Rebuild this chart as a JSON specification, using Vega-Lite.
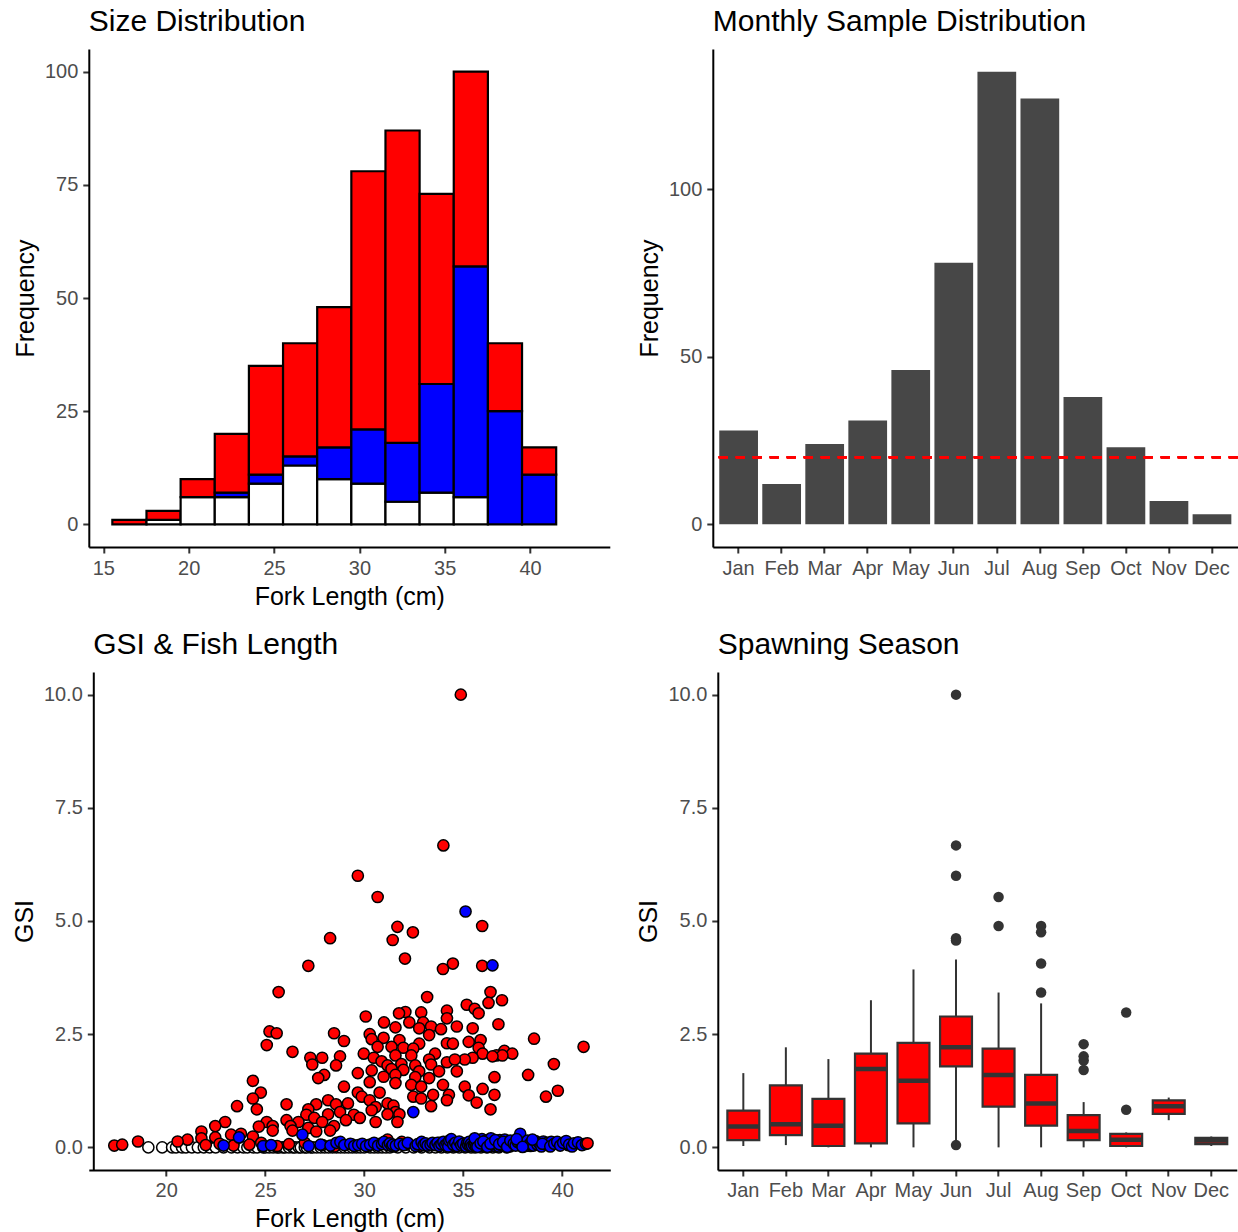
{
  "$schema": "https://vega.github.io/schema/vega-lite/v6.json",
  "background": "white",
  "padding": {"left": 11.8, "top": 7, "right": 0, "bottom": 0},
  "config": {
    "font": "Liberation Sans",
    "view": {"stroke": null},
    "axis": {
      "domainColor": "black", "domainWidth": 2, "tickColor": "#333333", "tickWidth": 2, "tickSize": 6,
      "labelColor": "#4d4d4d", "labelFontSize": 20, "labelPadding": 5, "labelFlush": false, "labelOverlap": false,
      "titleFontSize": 25, "titleFontWeight": "normal", "titleColor": "black", "titlePadding": 6, "grid": false
    },
    "title": {"fontSize": 30, "fontWeight": "normal", "anchor": "start", "frame": "group", "color": "black", "baseline": "alphabetic", "offset": 12}
  },
  "datasets": {
    "hist": [
      {"bin_start": 15.5, "bin_end": 17.5, "sex": "F", "n": 1},
      {"bin_start": 17.5, "bin_end": 19.5, "sex": "U", "n": 1},
      {"bin_start": 17.5, "bin_end": 19.5, "sex": "F", "n": 2},
      {"bin_start": 19.5, "bin_end": 21.5, "sex": "U", "n": 6},
      {"bin_start": 19.5, "bin_end": 21.5, "sex": "F", "n": 4},
      {"bin_start": 21.5, "bin_end": 23.5, "sex": "U", "n": 6},
      {"bin_start": 21.5, "bin_end": 23.5, "sex": "M", "n": 1},
      {"bin_start": 21.5, "bin_end": 23.5, "sex": "F", "n": 13},
      {"bin_start": 23.5, "bin_end": 25.5, "sex": "U", "n": 9},
      {"bin_start": 23.5, "bin_end": 25.5, "sex": "M", "n": 2},
      {"bin_start": 23.5, "bin_end": 25.5, "sex": "F", "n": 24},
      {"bin_start": 25.5, "bin_end": 27.5, "sex": "U", "n": 13},
      {"bin_start": 25.5, "bin_end": 27.5, "sex": "M", "n": 2},
      {"bin_start": 25.5, "bin_end": 27.5, "sex": "F", "n": 25},
      {"bin_start": 27.5, "bin_end": 29.5, "sex": "U", "n": 10},
      {"bin_start": 27.5, "bin_end": 29.5, "sex": "M", "n": 7},
      {"bin_start": 27.5, "bin_end": 29.5, "sex": "F", "n": 31},
      {"bin_start": 29.5, "bin_end": 31.5, "sex": "U", "n": 9},
      {"bin_start": 29.5, "bin_end": 31.5, "sex": "M", "n": 12},
      {"bin_start": 29.5, "bin_end": 31.5, "sex": "F", "n": 57},
      {"bin_start": 31.5, "bin_end": 33.5, "sex": "U", "n": 5},
      {"bin_start": 31.5, "bin_end": 33.5, "sex": "M", "n": 13},
      {"bin_start": 31.5, "bin_end": 33.5, "sex": "F", "n": 69},
      {"bin_start": 33.5, "bin_end": 35.5, "sex": "U", "n": 7},
      {"bin_start": 33.5, "bin_end": 35.5, "sex": "M", "n": 24},
      {"bin_start": 33.5, "bin_end": 35.5, "sex": "F", "n": 42},
      {"bin_start": 35.5, "bin_end": 37.5, "sex": "U", "n": 6},
      {"bin_start": 35.5, "bin_end": 37.5, "sex": "M", "n": 51},
      {"bin_start": 35.5, "bin_end": 37.5, "sex": "F", "n": 43},
      {"bin_start": 37.5, "bin_end": 39.5, "sex": "M", "n": 25},
      {"bin_start": 37.5, "bin_end": 39.5, "sex": "F", "n": 15},
      {"bin_start": 39.5, "bin_end": 41.5, "sex": "M", "n": 11},
      {"bin_start": 39.5, "bin_end": 41.5, "sex": "F", "n": 6}
    ],
    "monthly": [
      {"month": "Jan", "n": 28}, {"month": "Feb", "n": 12}, {"month": "Mar", "n": 24}, {"month": "Apr", "n": 31},
      {"month": "May", "n": 46}, {"month": "Jun", "n": 78}, {"month": "Jul", "n": 135}, {"month": "Aug", "n": 127},
      {"month": "Sep", "n": 38}, {"month": "Oct", "n": 23}, {"month": "Nov", "n": 7}, {"month": "Dec", "n": 3}
    ],
    "box": [
      {"month": "Jan", "lo": 0.03, "q1": 0.16, "med": 0.46, "q3": 0.81, "hi": 1.64},
      {"month": "Feb", "lo": 0.05, "q1": 0.27, "med": 0.51, "q3": 1.37, "hi": 2.21},
      {"month": "Mar", "lo": 0.0, "q1": 0.03, "med": 0.48, "q3": 1.07, "hi": 1.95},
      {"month": "Apr", "lo": 0.0, "q1": 0.09, "med": 1.73, "q3": 2.07, "hi": 3.25},
      {"month": "May", "lo": 0.0, "q1": 0.53, "med": 1.47, "q3": 2.31, "hi": 3.93},
      {"month": "Jun", "lo": 0.15, "q1": 1.79, "med": 2.21, "q3": 2.89, "hi": 4.15},
      {"month": "Jul", "lo": 0.0, "q1": 0.9, "med": 1.6, "q3": 2.18, "hi": 3.42},
      {"month": "Aug", "lo": 0.0, "q1": 0.48, "med": 0.97, "q3": 1.6, "hi": 3.18},
      {"month": "Sep", "lo": 0.0, "q1": 0.16, "med": 0.36, "q3": 0.71, "hi": 1.0},
      {"month": "Oct", "lo": 0.0, "q1": 0.03, "med": 0.17, "q3": 0.3, "hi": 0.33},
      {"month": "Nov", "lo": 0.6, "q1": 0.74, "med": 0.91, "q3": 1.04, "hi": 1.1},
      {"month": "Dec", "lo": 0.03, "q1": 0.07, "med": 0.15, "q3": 0.21, "hi": 0.24}
    ],
    "outliers": [
      {"month": "Jun", "gsi": 10.0}, {"month": "Jun", "gsi": 6.67}, {"month": "Jun", "gsi": 6.0},
      {"month": "Jun", "gsi": 4.62}, {"month": "Jun", "gsi": 4.57}, {"month": "Jun", "gsi": 0.05},
      {"month": "Jul", "gsi": 5.53}, {"month": "Jul", "gsi": 4.89},
      {"month": "Aug", "gsi": 4.89}, {"month": "Aug", "gsi": 4.75}, {"month": "Aug", "gsi": 4.06}, {"month": "Aug", "gsi": 3.42},
      {"month": "Sep", "gsi": 2.28}, {"month": "Sep", "gsi": 2.01}, {"month": "Sep", "gsi": 1.92}, {"month": "Sep", "gsi": 1.71},
      {"month": "Oct", "gsi": 2.98}, {"month": "Oct", "gsi": 0.83}
    ],
    "fish": [
      {"fl":19.1,"gsi":0,"sex":"U"},{"fl":19.8,"gsi":0,"sex":"U"},{"fl":20.3,"gsi":0,"sex":"U"},{"fl":20.5,"gsi":0,"sex":"U"},{"fl":20.8,"gsi":0,"sex":"U"},{"fl":21.0,"gsi":0,"sex":"U"},{"fl":21.3,"gsi":0,"sex":"U"},{"fl":21.6,"gsi":0,"sex":"U"},{"fl":21.9,"gsi":0,"sex":"U"},{"fl":22.2,"gsi":0,"sex":"U"},{"fl":22.5,"gsi":0,"sex":"U"},{"fl":22.9,"gsi":0,"sex":"U"},{"fl":23.3,"gsi":0,"sex":"U"},{"fl":23.6,"gsi":0,"sex":"U"},{"fl":23.9,"gsi":0,"sex":"U"},{"fl":24.1,"gsi":0,"sex":"U"},{"fl":24.4,"gsi":0,"sex":"U"},{"fl":24.6,"gsi":0,"sex":"U"},{"fl":24.9,"gsi":0,"sex":"U"},{"fl":25.0,"gsi":0,"sex":"U"},{"fl":25.2,"gsi":0,"sex":"U"},{"fl":25.4,"gsi":0,"sex":"U"},{"fl":25.6,"gsi":0,"sex":"U"},{"fl":25.7,"gsi":0,"sex":"U"},{"fl":25.9,"gsi":0,"sex":"U"},{"fl":26.0,"gsi":0,"sex":"U"},{"fl":26.2,"gsi":0,"sex":"U"},{"fl":26.4,"gsi":0,"sex":"U"},{"fl":26.5,"gsi":0,"sex":"U"},{"fl":26.7,"gsi":0,"sex":"U"},{"fl":26.8,"gsi":0,"sex":"U"},{"fl":27.0,"gsi":0,"sex":"U"},{"fl":27.1,"gsi":0,"sex":"U"},{"fl":27.3,"gsi":0,"sex":"U"},{"fl":27.4,"gsi":0,"sex":"U"},{"fl":27.6,"gsi":0,"sex":"U"},{"fl":27.8,"gsi":0,"sex":"U"},{"fl":28.0,"gsi":0,"sex":"U"},{"fl":28.2,"gsi":0,"sex":"U"},{"fl":28.4,"gsi":0,"sex":"U"},{"fl":28.6,"gsi":0,"sex":"U"},{"fl":28.8,"gsi":0,"sex":"U"},{"fl":29.0,"gsi":0,"sex":"U"},{"fl":29.2,"gsi":0,"sex":"U"},{"fl":29.4,"gsi":0,"sex":"U"},{"fl":29.6,"gsi":0,"sex":"U"},{"fl":29.8,"gsi":0,"sex":"U"},{"fl":30.0,"gsi":0,"sex":"U"},{"fl":30.3,"gsi":0,"sex":"U"},{"fl":30.5,"gsi":0,"sex":"U"},{"fl":30.7,"gsi":0,"sex":"U"},{"fl":30.9,"gsi":0,"sex":"U"},{"fl":31.1,"gsi":0,"sex":"U"},{"fl":31.3,"gsi":0,"sex":"U"},{"fl":31.7,"gsi":0,"sex":"U"},{"fl":32.1,"gsi":0,"sex":"U"},{"fl":32.5,"gsi":0,"sex":"U"},{"fl":32.9,"gsi":0,"sex":"U"},{"fl":33.3,"gsi":0,"sex":"U"},{"fl":33.6,"gsi":0,"sex":"U"},{"fl":33.9,"gsi":0,"sex":"U"},{"fl":34.2,"gsi":0,"sex":"U"},{"fl":34.5,"gsi":0,"sex":"U"},{"fl":34.8,"gsi":0,"sex":"U"},{"fl":35.1,"gsi":0,"sex":"U"},{"fl":35.4,"gsi":0,"sex":"U"},{"fl":35.6,"gsi":0,"sex":"U"},{"fl":35.9,"gsi":0,"sex":"U"},{"fl":36.2,"gsi":0,"sex":"U"},{"fl":36.5,"gsi":0,"sex":"U"},{"fl":36.8,"gsi":0,"sex":"U"},{"fl":37.2,"gsi":0,"sex":"U"},
      {"fl":34.88,"gsi":10.0,"sex":"F"},{"fl":34.0,"gsi":6.67,"sex":"F"},{"fl":29.68,"gsi":6.0,"sex":"F"},{"fl":30.68,"gsi":5.53,"sex":"F"},{"fl":35.96,"gsi":4.89,"sex":"F"},{"fl":31.68,"gsi":4.87,"sex":"F"},{"fl":32.46,"gsi":4.75,"sex":"F"},{"fl":28.28,"gsi":4.62,"sex":"F"},{"fl":31.44,"gsi":4.58,"sex":"F"},{"fl":32.06,"gsi":4.17,"sex":"F"},{"fl":34.48,"gsi":4.06,"sex":"F"},{"fl":35.96,"gsi":4.01,"sex":"F"},{"fl":33.98,"gsi":3.94,"sex":"F"},{"fl":27.18,"gsi":4.01,"sex":"F"},{"fl":25.68,"gsi":3.43,"sex":"F"},{"fl":36.38,"gsi":3.43,"sex":"F"},{"fl":33.18,"gsi":3.32,"sex":"F"},{"fl":36.96,"gsi":3.25,"sex":"F"},{"fl":36.28,"gsi":3.19,"sex":"F"},{"fl":35.18,"gsi":3.15,"sex":"F"},{"fl":35.58,"gsi":3.06,"sex":"F"},{"fl":34.18,"gsi":3.02,"sex":"F"},{"fl":32.88,"gsi":2.98,"sex":"F"},{"fl":32.08,"gsi":2.99,"sex":"F"},{"fl":31.76,"gsi":2.96,"sex":"F"},{"fl":30.08,"gsi":2.89,"sex":"F"},{"fl":35.78,"gsi":2.96,"sex":"F"},{"fl":34.18,"gsi":2.85,"sex":"F"},{"fl":31.0,"gsi":2.76,"sex":"F"},{"fl":32.28,"gsi":2.76,"sex":"F"},{"fl":32.98,"gsi":2.76,"sex":"F"},{"fl":36.78,"gsi":2.72,"sex":"F"},{"fl":33.38,"gsi":2.67,"sex":"F"},{"fl":34.68,"gsi":2.67,"sex":"F"},{"fl":31.58,"gsi":2.65,"sex":"F"},{"fl":32.78,"gsi":2.63,"sex":"F"},{"fl":35.48,"gsi":2.63,"sex":"F"},{"fl":33.88,"gsi":2.61,"sex":"F"},{"fl":25.22,"gsi":2.56,"sex":"F"},{"fl":25.58,"gsi":2.52,"sex":"F"},{"fl":28.48,"gsi":2.52,"sex":"F"},{"fl":30.28,"gsi":2.5,"sex":"F"},{"fl":33.28,"gsi":2.48,"sex":"F"},{"fl":30.38,"gsi":2.39,"sex":"F"},{"fl":30.98,"gsi":2.42,"sex":"F"},{"fl":38.58,"gsi":2.4,"sex":"F"},{"fl":31.78,"gsi":2.37,"sex":"F"},{"fl":28.98,"gsi":2.35,"sex":"F"},{"fl":35.88,"gsi":2.37,"sex":"F"},{"fl":35.28,"gsi":2.33,"sex":"F"},{"fl":34.18,"gsi":2.3,"sex":"F"},{"fl":34.48,"gsi":2.29,"sex":"F"},{"fl":32.78,"gsi":2.29,"sex":"F"},{"fl":25.08,"gsi":2.26,"sex":"F"},{"fl":41.08,"gsi":2.22,"sex":"F"},{"fl":30.68,"gsi":2.22,"sex":"F"},{"fl":31.38,"gsi":2.22,"sex":"F"},{"fl":31.98,"gsi":2.2,"sex":"F"},{"fl":32.48,"gsi":2.18,"sex":"F"},{"fl":35.78,"gsi":2.2,"sex":"F"},{"fl":26.38,"gsi":2.11,"sex":"F"},{"fl":37.08,"gsi":2.13,"sex":"F"},{"fl":37.48,"gsi":2.07,"sex":"F"},{"fl":36.68,"gsi":2.03,"sex":"F"},{"fl":36.98,"gsi":2.03,"sex":"F"},{"fl":29.98,"gsi":2.07,"sex":"F"},{"fl":30.48,"gsi":1.98,"sex":"F"},{"fl":31.58,"gsi":2.03,"sex":"F"},{"fl":32.38,"gsi":2.03,"sex":"F"},{"fl":33.58,"gsi":2.07,"sex":"F"},{"fl":35.98,"gsi":2.07,"sex":"F"},{"fl":36.48,"gsi":2.01,"sex":"F"},{"fl":27.28,"gsi":1.98,"sex":"F"},{"fl":27.88,"gsi":1.98,"sex":"F"},{"fl":28.78,"gsi":2.01,"sex":"F"},{"fl":33.28,"gsi":1.94,"sex":"F"},{"fl":35.48,"gsi":1.98,"sex":"F"},{"fl":35.08,"gsi":1.94,"sex":"F"},{"fl":30.88,"gsi":1.9,"sex":"F"},{"fl":39.58,"gsi":1.84,"sex":"F"},{"fl":27.38,"gsi":1.83,"sex":"F"},{"fl":28.58,"gsi":1.81,"sex":"F"},{"fl":31.18,"gsi":1.81,"sex":"F"},{"fl":31.88,"gsi":1.84,"sex":"F"},{"fl":32.58,"gsi":1.81,"sex":"F"},{"fl":33.38,"gsi":1.83,"sex":"F"},{"fl":34.18,"gsi":1.88,"sex":"F"},{"fl":34.58,"gsi":1.94,"sex":"F"},{"fl":31.38,"gsi":1.73,"sex":"F"},{"fl":31.98,"gsi":1.71,"sex":"F"},{"fl":30.38,"gsi":1.7,"sex":"F"},{"fl":32.78,"gsi":1.68,"sex":"F"},{"fl":33.78,"gsi":1.68,"sex":"F"},{"fl":34.68,"gsi":1.68,"sex":"F"},{"fl":29.68,"gsi":1.64,"sex":"F"},{"fl":38.28,"gsi":1.6,"sex":"F"},{"fl":27.98,"gsi":1.6,"sex":"F"},{"fl":31.58,"gsi":1.6,"sex":"F"},{"fl":32.58,"gsi":1.55,"sex":"F"},{"fl":36.58,"gsi":1.55,"sex":"F"},{"fl":27.68,"gsi":1.53,"sex":"F"},{"fl":30.98,"gsi":1.56,"sex":"F"},{"fl":33.28,"gsi":1.53,"sex":"F"},{"fl":24.38,"gsi":1.47,"sex":"F"},{"fl":30.28,"gsi":1.44,"sex":"F"},{"fl":31.58,"gsi":1.42,"sex":"F"},{"fl":32.38,"gsi":1.38,"sex":"F"},{"fl":33.98,"gsi":1.38,"sex":"F"},{"fl":28.98,"gsi":1.34,"sex":"F"},{"fl":35.08,"gsi":1.34,"sex":"F"},{"fl":35.98,"gsi":1.29,"sex":"F"},{"fl":32.88,"gsi":1.34,"sex":"F"},{"fl":39.78,"gsi":1.25,"sex":"F"},{"fl":24.78,"gsi":1.21,"sex":"F"},{"fl":29.68,"gsi":1.21,"sex":"F"},{"fl":30.78,"gsi":1.21,"sex":"F"},{"fl":33.48,"gsi":1.16,"sex":"F"},{"fl":35.28,"gsi":1.15,"sex":"F"},{"fl":36.58,"gsi":1.16,"sex":"F"},{"fl":34.28,"gsi":1.16,"sex":"F"},{"fl":39.18,"gsi":1.12,"sex":"F"},{"fl":24.38,"gsi":1.08,"sex":"F"},{"fl":29.88,"gsi":1.12,"sex":"F"},{"fl":32.48,"gsi":1.12,"sex":"F"},{"fl":32.88,"gsi":1.08,"sex":"F"},{"fl":28.18,"gsi":1.04,"sex":"F"},{"fl":30.28,"gsi":1.04,"sex":"F"},{"fl":34.18,"gsi":1.04,"sex":"F"},{"fl":35.68,"gsi":0.99,"sex":"F"},{"fl":27.58,"gsi":0.95,"sex":"F"},{"fl":26.08,"gsi":0.95,"sex":"F"},{"fl":28.58,"gsi":0.95,"sex":"F"},{"fl":29.18,"gsi":0.97,"sex":"F"},{"fl":31.18,"gsi":0.97,"sex":"F"},{"fl":31.48,"gsi":0.92,"sex":"F"},{"fl":23.58,"gsi":0.91,"sex":"F"},{"fl":33.38,"gsi":0.91,"sex":"F"},{"fl":30.58,"gsi":0.89,"sex":"F"},{"fl":27.18,"gsi":0.84,"sex":"F"},{"fl":24.58,"gsi":0.84,"sex":"F"},{"fl":36.38,"gsi":0.84,"sex":"F"},{"fl":30.38,"gsi":0.82,"sex":"F"},{"fl":28.78,"gsi":0.78,"sex":"F"},{"fl":31.58,"gsi":0.78,"sex":"F"},{"fl":27.08,"gsi":0.72,"sex":"F"},{"fl":28.18,"gsi":0.73,"sex":"F"},{"fl":29.48,"gsi":0.72,"sex":"F"},{"fl":31.18,"gsi":0.73,"sex":"F"},{"fl":31.78,"gsi":0.73,"sex":"F"},{"fl":27.48,"gsi":0.65,"sex":"F"},{"fl":26.08,"gsi":0.6,"sex":"F"},{"fl":29.78,"gsi":0.65,"sex":"F"},{"fl":29.08,"gsi":0.6,"sex":"F"},{"fl":22.98,"gsi":0.56,"sex":"F"},{"fl":25.08,"gsi":0.56,"sex":"F"},{"fl":26.68,"gsi":0.56,"sex":"F"},{"fl":27.88,"gsi":0.56,"sex":"F"},{"fl":30.58,"gsi":0.56,"sex":"F"},{"fl":31.68,"gsi":0.56,"sex":"F"},{"fl":25.38,"gsi":0.47,"sex":"F"},{"fl":22.48,"gsi":0.47,"sex":"F"},{"fl":26.28,"gsi":0.47,"sex":"F"},{"fl":28.48,"gsi":0.47,"sex":"F"},{"fl":24.68,"gsi":0.46,"sex":"F"},{"fl":25.38,"gsi":0.37,"sex":"F"},{"fl":27.18,"gsi":0.43,"sex":"F"},{"fl":28.28,"gsi":0.37,"sex":"F"},{"fl":21.78,"gsi":0.35,"sex":"F"},{"fl":26.38,"gsi":0.37,"sex":"F"},{"fl":27.58,"gsi":0.35,"sex":"F"},{"fl":23.28,"gsi":0.28,"sex":"F"},{"fl":23.78,"gsi":0.3,"sex":"F"},{"fl":24.38,"gsi":0.24,"sex":"F"},{"fl":22.48,"gsi":0.22,"sex":"F"},{"fl":21.78,"gsi":0.2,"sex":"F"},{"fl":21.08,"gsi":0.17,"sex":"F"},{"fl":31.18,"gsi":0.17,"sex":"F"},{"fl":20.58,"gsi":0.13,"sex":"F"},{"fl":18.58,"gsi":0.13,"sex":"F"},{"fl":17.38,"gsi":0.04,"sex":"F"},{"fl":17.78,"gsi":0.06,"sex":"F"},
      {"fl":22.0,"gsi":0.05,"sex":"F"},{"fl":22.7,"gsi":0.08,"sex":"F"},{"fl":23.4,"gsi":0.04,"sex":"F"},{"fl":24.2,"gsi":0.06,"sex":"F"},{"fl":24.8,"gsi":0.1,"sex":"F"},{"fl":25.6,"gsi":0.03,"sex":"F"},{"fl":26.2,"gsi":0.07,"sex":"F"},{"fl":27.0,"gsi":0.1,"sex":"F"},{"fl":27.9,"gsi":0.05,"sex":"F"},{"fl":28.5,"gsi":0.02,"sex":"F"},{"fl":29.4,"gsi":0.06,"sex":"F"},{"fl":30.2,"gsi":0.04,"sex":"F"},{"fl":30.8,"gsi":0.08,"sex":"F"},{"fl":31.5,"gsi":0.02,"sex":"F"},{"fl":32.1,"gsi":0.06,"sex":"F"},{"fl":32.8,"gsi":0.03,"sex":"F"},{"fl":33.3,"gsi":0.05,"sex":"F"},{"fl":34.0,"gsi":0.07,"sex":"F"},{"fl":34.6,"gsi":0.02,"sex":"F"},{"fl":35.3,"gsi":0.05,"sex":"F"},{"fl":36.0,"gsi":0.08,"sex":"F"},{"fl":36.7,"gsi":0.04,"sex":"F"},{"fl":37.6,"gsi":0.06,"sex":"F"},{"fl":38.4,"gsi":0.03,"sex":"F"},{"fl":39.2,"gsi":0.07,"sex":"F"},{"fl":40.3,"gsi":0.05,"sex":"F"},{"fl":41.1,"gsi":0.07,"sex":"F"},{"fl":31.9,"gsi":0.12,"sex":"F"},{"fl":33.8,"gsi":0.1,"sex":"F"},{"fl":35.8,"gsi":0.12,"sex":"F"},
      {"fl":22.9,"gsi":0.04,"sex":"M"},{"fl":23.68,"gsi":0.22,"sex":"M"},{"fl":24.9,"gsi":0.03,"sex":"M"},{"fl":25.3,"gsi":0.05,"sex":"M"},{"fl":26.88,"gsi":0.28,"sex":"M"},{"fl":27.2,"gsi":0.03,"sex":"M"},{"fl":27.8,"gsi":0.06,"sex":"M"},{"fl":28.3,"gsi":0.04,"sex":"M"},{"fl":28.6,"gsi":0.1,"sex":"M"},{"fl":28.8,"gsi":0.12,"sex":"M"},{"fl":29.0,"gsi":0.05,"sex":"M"},{"fl":29.3,"gsi":0.08,"sex":"M"},{"fl":29.5,"gsi":0.03,"sex":"M"},{"fl":29.7,"gsi":0.05,"sex":"M"},{"fl":29.9,"gsi":0.08,"sex":"M"},{"fl":30.1,"gsi":0.03,"sex":"M"},{"fl":30.3,"gsi":0.06,"sex":"M"},{"fl":30.5,"gsi":0.1,"sex":"M"},{"fl":30.7,"gsi":0.04,"sex":"M"},{"fl":30.9,"gsi":0.07,"sex":"M"},{"fl":31.0,"gsi":0.12,"sex":"M"},{"fl":31.2,"gsi":0.05,"sex":"M"},{"fl":31.3,"gsi":0.09,"sex":"M"},{"fl":31.4,"gsi":0.03,"sex":"M"},{"fl":31.45,"gsi":0.06,"sex":"M"},{"fl":31.6,"gsi":0.04,"sex":"M"},{"fl":31.8,"gsi":0.08,"sex":"M"},{"fl":32.0,"gsi":0.05,"sex":"M"},{"fl":32.2,"gsi":0.1,"sex":"M"},{"fl":32.48,"gsi":0.78,"sex":"M"},{"fl":32.6,"gsi":0.03,"sex":"M"},{"fl":32.7,"gsi":0.07,"sex":"M"},{"fl":32.9,"gsi":0.12,"sex":"M"},{"fl":33.0,"gsi":0.05,"sex":"M"},{"fl":33.1,"gsi":0.09,"sex":"M"},{"fl":33.2,"gsi":0.04,"sex":"M"},{"fl":33.35,"gsi":0.06,"sex":"M"},{"fl":33.45,"gsi":0.1,"sex":"M"},{"fl":33.6,"gsi":0.05,"sex":"M"},{"fl":33.7,"gsi":0.1,"sex":"M"},{"fl":33.8,"gsi":0.03,"sex":"M"},{"fl":33.9,"gsi":0.07,"sex":"M"},{"fl":34.0,"gsi":0.12,"sex":"M"},{"fl":34.1,"gsi":0.05,"sex":"M"},{"fl":34.2,"gsi":0.08,"sex":"M"},{"fl":34.25,"gsi":0.02,"sex":"M"},{"fl":34.3,"gsi":0.15,"sex":"M"},{"fl":34.4,"gsi":0.18,"sex":"M"},{"fl":34.5,"gsi":0.06,"sex":"M"},{"fl":34.6,"gsi":0.1,"sex":"M"},{"fl":34.7,"gsi":0.03,"sex":"M"},{"fl":34.8,"gsi":0.13,"sex":"M"},{"fl":34.9,"gsi":0.05,"sex":"M"},{"fl":35.0,"gsi":0.08,"sex":"M"},{"fl":35.12,"gsi":5.21,"sex":"M"},{"fl":35.15,"gsi":0.02,"sex":"M"},{"fl":35.2,"gsi":0.1,"sex":"M"},{"fl":35.25,"gsi":0.06,"sex":"M"},{"fl":35.3,"gsi":0.12,"sex":"M"},{"fl":35.35,"gsi":0.04,"sex":"M"},{"fl":35.4,"gsi":0.08,"sex":"M"},{"fl":35.45,"gsi":0.03,"sex":"M"},
      {"fl":35.55,"gsi":0.05,"sex":"M"},{"fl":35.6,"gsi":0.1,"sex":"M"},{"fl":35.65,"gsi":0.02,"sex":"M"},{"fl":35.7,"gsi":0.14,"sex":"M"},{"fl":35.75,"gsi":0.07,"sex":"M"},{"fl":35.8,"gsi":0.04,"sex":"M"},{"fl":35.85,"gsi":0.12,"sex":"M"},{"fl":35.9,"gsi":0.06,"sex":"M"},{"fl":35.95,"gsi":0.18,"sex":"M"},{"fl":36.0,"gsi":0.03,"sex":"M"},{"fl":36.05,"gsi":0.09,"sex":"M"},{"fl":36.1,"gsi":0.05,"sex":"M"},{"fl":36.15,"gsi":0.15,"sex":"M"},{"fl":36.2,"gsi":0.07,"sex":"M"},{"fl":36.25,"gsi":0.02,"sex":"M"},{"fl":36.3,"gsi":0.11,"sex":"M"},{"fl":36.35,"gsi":0.06,"sex":"M"},{"fl":36.4,"gsi":0.2,"sex":"M"},{"fl":36.45,"gsi":0.04,"sex":"M"},{"fl":36.48,"gsi":4.02,"sex":"M"},{"fl":36.5,"gsi":0.1,"sex":"M"},{"fl":36.55,"gsi":0.07,"sex":"M"},{"fl":36.6,"gsi":0.03,"sex":"M"},{"fl":36.65,"gsi":0.13,"sex":"M"},{"fl":36.7,"gsi":0.05,"sex":"M"},{"fl":36.75,"gsi":0.09,"sex":"M"},{"fl":36.8,"gsi":0.02,"sex":"M"},{"fl":36.85,"gsi":0.16,"sex":"M"},{"fl":36.9,"gsi":0.06,"sex":"M"},{"fl":36.95,"gsi":0.11,"sex":"M"},{"fl":37.0,"gsi":0.04,"sex":"M"},{"fl":37.05,"gsi":0.08,"sex":"M"},{"fl":37.1,"gsi":0.17,"sex":"M"},{"fl":37.15,"gsi":0.03,"sex":"M"},{"fl":37.2,"gsi":0.1,"sex":"M"},{"fl":37.25,"gsi":0.06,"sex":"M"},{"fl":37.3,"gsi":0.13,"sex":"M"},{"fl":37.35,"gsi":0.02,"sex":"M"},{"fl":37.4,"gsi":0.08,"sex":"M"},{"fl":37.45,"gsi":0.05,"sex":"M"},{"fl":35.58,"gsi":0.2,"sex":"M"},{"fl":35.72,"gsi":0.01,"sex":"M"},{"fl":35.88,"gsi":0.09,"sex":"M"},{"fl":36.02,"gsi":0.13,"sex":"M"},{"fl":36.22,"gsi":0.01,"sex":"M"},{"fl":36.38,"gsi":0.08,"sex":"M"},{"fl":36.62,"gsi":0.16,"sex":"M"},{"fl":36.82,"gsi":0.07,"sex":"M"},{"fl":37.02,"gsi":0.12,"sex":"M"},{"fl":37.22,"gsi":0.01,"sex":"M"},{"fl":37.38,"gsi":0.15,"sex":"M"},
      {"fl":37.55,"gsi":0.08,"sex":"M"},{"fl":37.65,"gsi":0.04,"sex":"M"},{"fl":37.75,"gsi":0.12,"sex":"M"},{"fl":37.88,"gsi":0.3,"sex":"M"},{"fl":37.95,"gsi":0.06,"sex":"M"},{"fl":38.05,"gsi":0.1,"sex":"M"},{"fl":38.15,"gsi":0.03,"sex":"M"},{"fl":38.25,"gsi":0.15,"sex":"M"},{"fl":38.35,"gsi":0.07,"sex":"M"},{"fl":38.45,"gsi":0.11,"sex":"M"},{"fl":38.55,"gsi":0.04,"sex":"M"},{"fl":38.65,"gsi":0.14,"sex":"M"},{"fl":38.75,"gsi":0.06,"sex":"M"},{"fl":38.85,"gsi":0.09,"sex":"M"},{"fl":38.95,"gsi":0.02,"sex":"M"},{"fl":39.05,"gsi":0.13,"sex":"M"},{"fl":39.15,"gsi":0.07,"sex":"M"},{"fl":39.25,"gsi":0.1,"sex":"M"},{"fl":39.35,"gsi":0.04,"sex":"M"},{"fl":39.45,"gsi":0.12,"sex":"M"},{"fl":37.7,"gsi":0.18,"sex":"M"},{"fl":38.0,"gsi":0.01,"sex":"M"},{"fl":38.5,"gsi":0.17,"sex":"M"},{"fl":39.0,"gsi":0.08,"sex":"M"},{"fl":39.4,"gsi":0.02,"sex":"M"},
      {"fl":39.6,"gsi":0.08,"sex":"M"},{"fl":39.75,"gsi":0.12,"sex":"M"},{"fl":39.9,"gsi":0.04,"sex":"M"},{"fl":40.05,"gsi":0.1,"sex":"M"},{"fl":40.2,"gsi":0.14,"sex":"M"},{"fl":40.35,"gsi":0.06,"sex":"M"},{"fl":40.5,"gsi":0.02,"sex":"M"},{"fl":40.6,"gsi":0.09,"sex":"M"},{"fl":40.8,"gsi":0.11,"sex":"M"},{"fl":41.0,"gsi":0.05,"sex":"M"},{"fl":41.2,"gsi":0.08,"sex":"M"},
      {"fl":41.28,"gsi":0.09,"sex":"F"}
    ]
  },
  "columns": 2,
  "align": {"row": "all", "column": "none"},
  "spacing": {"row": 21, "column": 26},
  "concat": [
    {
      "width": 521, "height": 498,
      "title": "Size Distribution",
      "data": {"name": "hist"},
      "mark": {"type": "bar", "stroke": "black", "strokeWidth": 2.2, "binSpacing": 0},
      "encoding": {
        "x": {"field": "bin_start", "type": "quantitative", "bin": {"binned": true, "step": 2},
              "scale": {"domain": [14.15, 44.67], "nice": false, "zero": false},
              "axis": {"values": [15, 20, 25, 30, 35, 40], "format": "d", "title": "Fork Length (cm)"}},
        "x2": {"field": "bin_end"},
        "y": {"field": "n", "type": "quantitative", "stack": "zero",
              "scale": {"domain": [-5, 105], "nice": false, "zero": false},
              "axis": {"values": [0, 25, 50, 75, 100], "title": "Frequency"}},
        "color": {"field": "sex", "type": "nominal", "scale": {"domain": ["F", "M", "U"], "range": ["#ff0000", "#0000ff", "#ffffff"]}, "legend": null},
        "order": {"field": "sex", "sort": "descending"}
      }
    },
    {
      "width": 525, "height": 498,
      "title": "Monthly Sample Distribution",
      "data": {"name": "monthly"},
      "layer": [
        {
          "mark": {"type": "bar", "color": "#474747"},
          "encoding": {
            "x": {"field": "month", "type": "nominal", "sort": null,
                  "scale": {"paddingInner": 0.1, "paddingOuter": 0.15},
                  "axis": {"title": null, "labelAngle": 0}},
            "y": {"field": "n", "type": "quantitative",
                  "scale": {"domain": [-6.75, 141.75], "nice": false, "zero": false},
                  "axis": {"values": [0, 50, 100], "title": "Frequency"}}
          }
        },
        {
          "mark": {"type": "rule", "color": "#ff0000", "strokeDash": [9, 8], "strokeWidth": 2},
          "encoding": {"y": {"datum": 20}}
        }
      ]
    },
    {
      "width": 521.5, "height": 498,
      "title": {"text": "GSI & Fish Length", "dx": 4.5},
      "data": {"name": "fish"},
      "mark": {"type": "point", "shape": "circle", "filled": true, "size": 125, "stroke": "black", "strokeWidth": 1.5, "opacity": 1},
      "encoding": {
        "x": {"field": "fl", "type": "quantitative",
              "scale": {"domain": [16.093, 42.43], "nice": false, "zero": false},
              "axis": {"values": [20, 25, 30, 35, 40], "format": "d", "title": "Fork Length (cm)"}},
        "y": {"field": "gsi", "type": "quantitative",
              "scale": {"domain": [-0.5, 10.5], "nice": false, "zero": false},
              "axis": {"values": [0, 2.5, 5, 7.5, 10], "format": ".1f", "title": "GSI", "offset": -4.5}},
        "fill": {"field": "sex", "type": "nominal", "scale": {"domain": ["F", "M", "U"], "range": ["#ff0000", "#0000ff", "#ffffff"]}, "legend": null}
      }
    },
    {
      "width": 519, "height": 498,
      "title": "Spawning Season",
      "layer": [
        {
          "data": {"name": "box"},
          "mark": {"type": "rule", "color": "#333333", "strokeWidth": 2},
          "encoding": {
            "x": {"field": "month", "type": "nominal", "sort": null,
                  "scale": {"domain": ["Jan","Feb","Mar","Apr","May","Jun","Jul","Aug","Sep","Oct","Nov","Dec"], "paddingInner": 0.25, "paddingOuter": 0.225},
                  "axis": {"title": null, "labelAngle": 0}},
            "y": {"field": "lo", "type": "quantitative",
                  "scale": {"domain": [-0.5, 10.5], "nice": false, "zero": false},
                  "axis": {"values": [0, 2.5, 5, 7.5, 10], "format": ".1f", "title": "GSI"}},
            "y2": {"field": "hi"}
          }
        },
        {
          "data": {"name": "box"},
          "mark": {"type": "bar", "fill": "#ff0000", "stroke": "#333333", "strokeWidth": 2.2},
          "encoding": {
            "x": {"field": "month", "type": "nominal", "sort": null},
            "y": {"field": "q1", "type": "quantitative"},
            "y2": {"field": "q3"}
          }
        },
        {
          "data": {"name": "box"},
          "mark": {"type": "tick", "color": "#333333", "thickness": 4.5, "size": 32, "opacity": 1},
          "encoding": {
            "x": {"field": "month", "type": "nominal", "sort": null},
            "y": {"field": "med", "type": "quantitative"}
          }
        },
        {
          "data": {"name": "outliers"},
          "mark": {"type": "circle", "color": "#333333", "size": 110, "opacity": 1},
          "encoding": {
            "x": {"field": "month", "type": "nominal", "sort": null},
            "y": {"field": "gsi", "type": "quantitative"}
          }
        }
      ]
    }
  ]
}
